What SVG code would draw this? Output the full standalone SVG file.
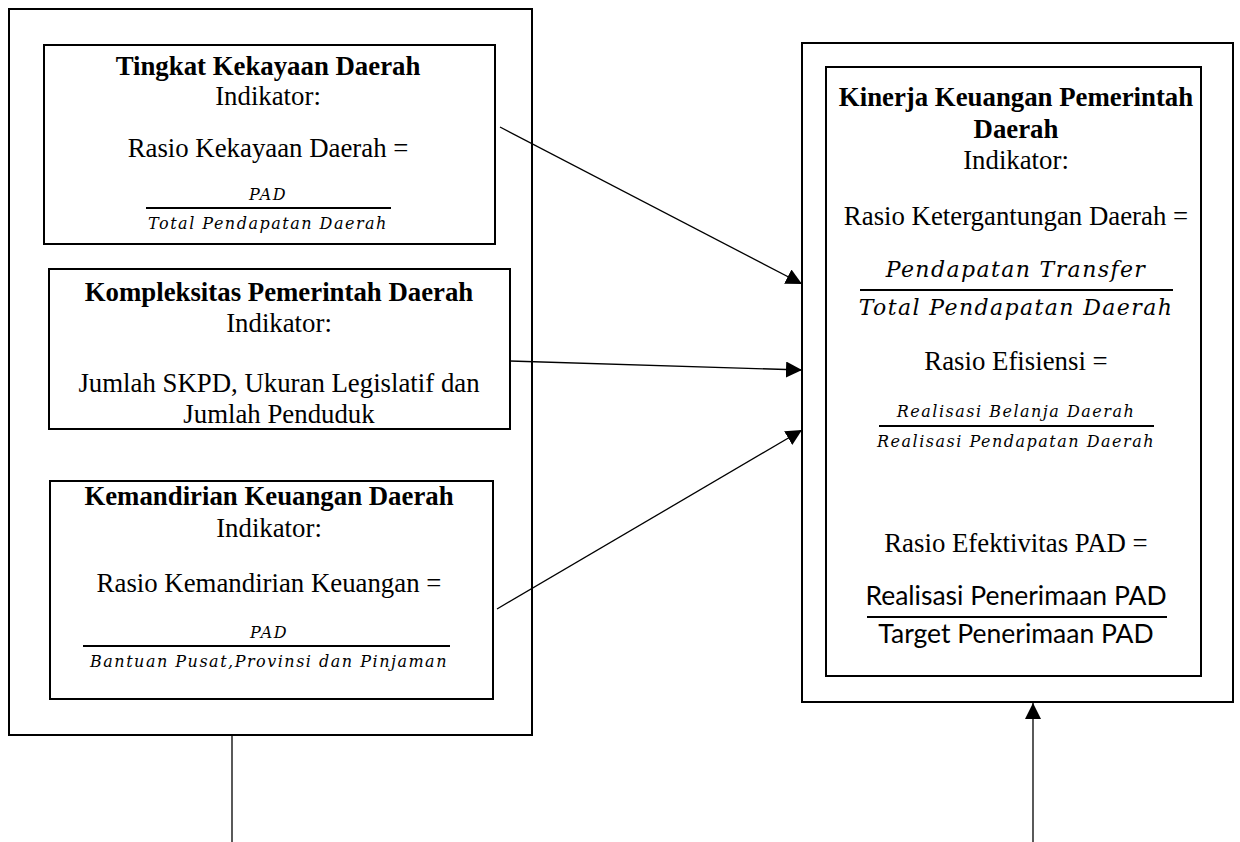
<svg xmlns="http://www.w3.org/2000/svg" width="1240" height="842" viewBox="0 0 1240 842">
<style>
.box{fill:#fff;stroke:#000;stroke-width:2}
.t{font-family:"Liberation Serif","Times New Roman",serif;font-size:26.8px;fill:#000;text-anchor:middle}
.b{font-weight:bold}
.m{font-family:"DejaVu Serif","Liberation Serif",serif;font-style:italic;fill:#000;text-anchor:middle}
.s{font-size:16px;letter-spacing:1.5px}
.l{font-size:22px;letter-spacing:1.4px}
.c{font-family:Lato,"Open Sans",sans-serif;font-size:26.5px;fill:#000;text-anchor:middle}
.fl{stroke:#000;stroke-width:2}
.con{stroke:#000;stroke-width:1.3;fill:none}
</style>
<defs>
<marker id="ah" viewBox="0 0 10 10" refX="10" refY="5" markerWidth="16" markerHeight="16" markerUnits="userSpaceOnUse" orient="auto">
<path d="M0,0 L10,5 L0,10 Z" fill="#000"/>
</marker>
</defs>
<g id="left-group"><rect class="box" x="9" y="9" width="523" height="726"/></g>
<g id="right-group"><rect class="box" x="802" y="43" width="431" height="659"/></g>
<g id="node-kekayaan">
<rect class="box" x="44" y="45" width="451" height="199"/>
<text class="t b" x="268" y="75">Tingkat Kekayaan Daerah</text>
<text class="t" x="268" y="105">Indikator:</text>
<text class="t" x="268" y="157">Rasio Kekayaan Daerah =</text>
<text class="m s" x="268" y="200">PAD</text>
<line class="fl" x1="146" y1="208" x2="391" y2="208"/>
<text class="m s" x="268" y="229">Total Pendapatan Daerah</text>
</g>
<g id="node-kompleksitas">
<rect class="box" x="49" y="269" width="461" height="160"/>
<text class="t b" x="279" y="301">Kompleksitas Pemerintah Daerah</text>
<text class="t" x="279" y="332">Indikator:</text>
<text class="t" x="279" y="392">Jumlah SKPD, Ukuran Legislatif dan</text>
<text class="t" x="279" y="423">Jumlah Penduduk</text>
</g>
<g id="node-kemandirian">
<rect class="box" x="50" y="481" width="443" height="218"/>
<text class="t b" x="269" y="505">Kemandirian Keuangan Daerah</text>
<text class="t" x="269" y="537">Indikator:</text>
<text class="t" x="269" y="592">Rasio Kemandirian Keuangan =</text>
<text class="m s" x="269" y="638">PAD</text>
<line class="fl" x1="83" y1="646" x2="450" y2="646"/>
<text class="m s" x="269" y="667">Bantuan Pusat,Provinsi dan Pinjaman</text>
</g>
<g id="node-kinerja">
<rect class="box" x="826" y="67" width="375" height="609"/>
<text class="t b" x="1016" y="106">Kinerja Keuangan Pemerintah</text>
<text class="t b" x="1016" y="138">Daerah</text>
<text class="t" x="1016" y="169">Indikator:</text>
<text class="t" x="1016" y="225">Rasio Ketergantungan Daerah =</text>
<text class="m l" x="1016" y="277">Pendapatan Transfer</text>
<line class="fl" x1="860" y1="290" x2="1173" y2="290"/>
<text class="m l" x="1016" y="315">Total Pendapatan Daerah</text>
<text class="t" x="1016" y="370">Rasio Efisiensi =</text>
<text class="m s" x="1016" y="417">Realisasi Belanja Daerah</text>
<line class="fl" x1="879" y1="426" x2="1154" y2="426"/>
<text class="m s" x="1016" y="447">Realisasi Pendapatan Daerah</text>
<text class="t" x="1016" y="552">Rasio Efektivitas PAD =</text>
<text class="c" x="1016" y="605">Realisasi Penerimaan PAD</text>
<line class="fl" x1="867" y1="617" x2="1167" y2="617"/>
<text class="c" x="1016" y="643">Target Penerimaan PAD</text>
</g>
<g id="connectors">
<line class="con" x1="500" y1="127" x2="802" y2="284" marker-end="url(#ah)"/>
<line class="con" x1="510" y1="361" x2="802" y2="370" marker-end="url(#ah)"/>
<line class="con" x1="497" y1="609" x2="802" y2="430" marker-end="url(#ah)"/>
<line class="con" x1="232" y1="736" x2="232" y2="842"/>
<line class="con" x1="1033" y1="842" x2="1033" y2="703" marker-end="url(#ah)"/>
</g>
</svg>
